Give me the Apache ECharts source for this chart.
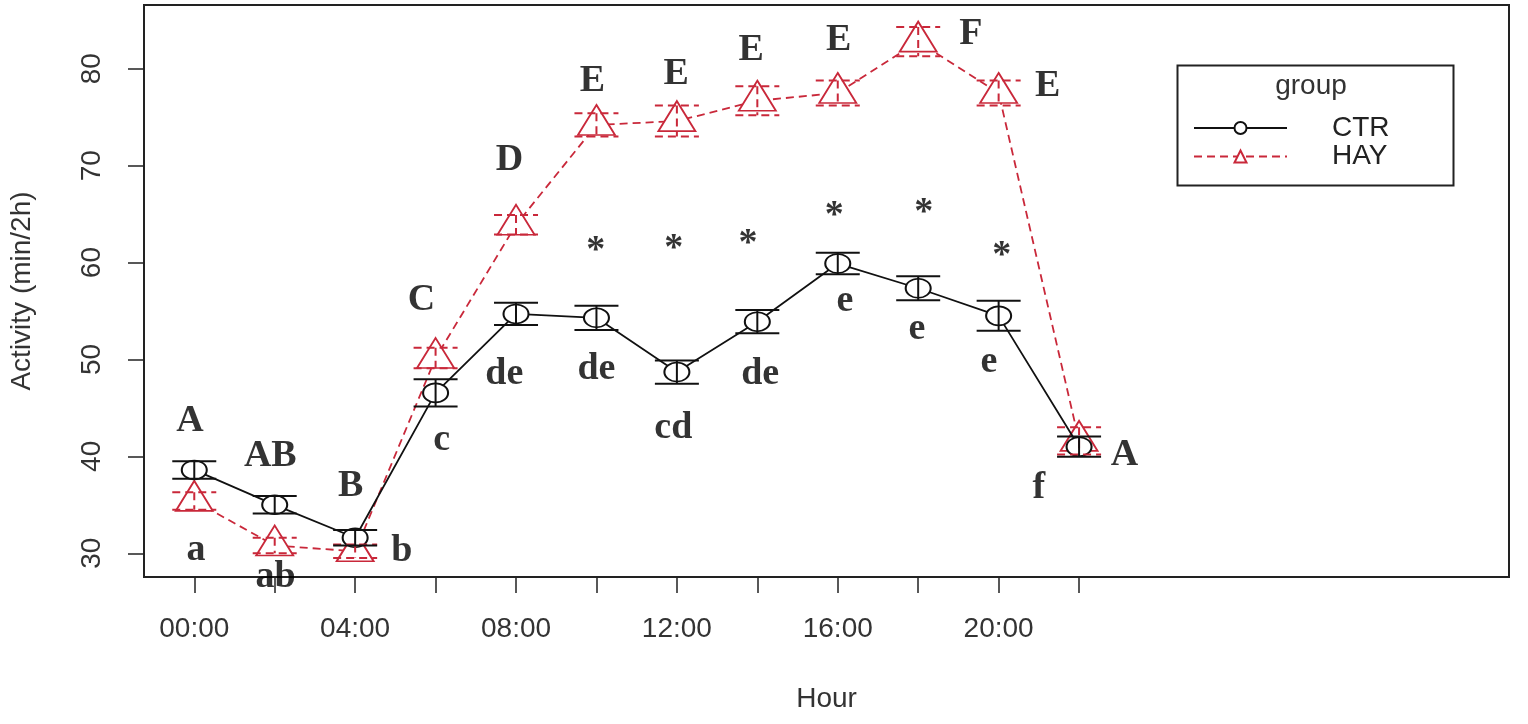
<!DOCTYPE html>
<html><head><meta charset="utf-8">
<script src="https://cdn.jsdelivr.net/npm/echarts@6/dist/echarts.min.js"></script>
<style>html,body{margin:0;padding:0;background:#fff}#c{width:1528px;height:724px}</style>
</head><body><div id="c"></div>
<script>
// ---- data ----
const hours = [0, 2, 4, 6, 8, 10, 12, 14, 16, 18, 20, 22];
const ctrMean = [38.6, 35.0, 31.6, 46.55, 54.7, 54.3, 48.7, 53.9, 59.9, 57.35, 54.5, 41.0];
const ctrSE   = [0.9, 0.9, 0.8, 1.4, 1.15, 1.25, 1.2, 1.2, 1.1, 1.25, 1.55, 1.05];
const hayMean = [35.4, 30.8, 30.2, 50.15, 63.9, 74.2, 74.6, 76.7, 77.5, 82.8, 77.5, 41.6];
const haySE   = [0.9, 0.8, 0.7, 1.05, 1.0, 1.2, 1.6, 1.5, 1.3, 1.5, 1.3, 1.4];
const yTickValues = [30, 40, 50, 60, 70, 80];
const xTickValues = [0, 2, 4, 6, 8, 10, 12, 14, 16, 18, 20, 22];
const xLabelValues = [0, 4, 8, 12, 16, 20];
// significance letters, anchored in data units [hour, value, text]
const hayLetters = [[-0.11, 43.6, 'A'], [1.89, 40.05, 'AB'], [3.89, 36.9, 'B'], [5.65, 56.15, 'C'],
  [7.84, 70.6, 'D'], [9.9, 78.75, 'E'], [11.98, 79.4, 'E'], [13.85, 81.9, 'E'], [16.02, 82.9, 'E'],
  [19.31, 83.6, 'F'], [21.22, 78.2, 'E'], [23.13, 40.15, 'A']];
const ctrLetters = [[0.04, 30.3, 'a'], [2.02, 27.5, 'ab'], [5.16, 30.2, 'b'], [6.15, 41.65, 'c'],
  [7.71, 48.45, 'de'], [10.0, 48.95, 'de'], [11.91, 42.95, 'cd'], [14.07, 48.45, 'de'],
  [16.18, 56.05, 'e'], [17.97, 53.1, 'e'], [19.76, 49.7, 'e'], [21.0, 36.7, 'f']];
const stars = [[9.98, 61.2, '*'], [11.92, 61.4, '*'], [13.77, 61.85, '*'], [15.91, 64.8, '*'],
  [18.14, 65.1, '*'], [20.08, 60.7, '*']];

// ---- styles ----
const RED = '#c9283a';
const BLACK = '#111';
const axisText = '#333';

function errRender(color, dashed) {
  return function (params, api) {
    const h = api.value(0), m = api.value(1), se = api.value(2);
    const top = api.coord([h, m + se]);
    const bot = api.coord([h, m - se]);
    const hw = 22;
    const style = { stroke: color, lineWidth: 2, fill: null, lineDash: dashed ? [8, 5] : null };
    return {
      type: 'group',
      children: [
        { type: 'line', shape: { x1: top[0], y1: top[1], x2: bot[0], y2: bot[1] }, style: style },
        { type: 'line', shape: { x1: top[0] - hw, y1: top[1], x2: top[0] + hw, y2: top[1] }, style: style },
        { type: 'line', shape: { x1: bot[0] - hw, y1: bot[1], x2: bot[0] + hw, y2: bot[1] }, style: style }
      ]
    };
  };
}

function textSeries(arr) {
  return {
    type: 'scatter', silent: true, clip: false, z: 10,
    symbolSize: 1, itemStyle: { color: 'rgba(0,0,0,0)' },
    data: arr.map(d => ({ value: [d[0], d[1]], name: d[2] })),
    label: {
      show: true, position: 'inside', formatter: p => p.name,
      fontFamily: 'Liberation Serif', fontWeight: 'bold', fontSize: 38, color: '#000'
    }
  };
}

const chart = echarts.init(document.getElementById('c'), null, { renderer: 'canvas' });
chart.setOption({
  animation: false,
  backgroundColor: '#fff',
  grid: { left: 142, right: 19, top: 5, bottom: 147, show: true, borderColor: '#222', borderWidth: 2, backgroundColor: 'transparent' },
  xAxis: {
    type: 'value', min: -1.25, max: 32.69,
    name: 'Hour', nameLocation: 'middle', nameGap: 108,
    nameTextStyle: { fontFamily: 'Liberation Sans', fontSize: 28, color: axisText },
    axisLine: { show: false, onZero: false },
    splitLine: { show: false },
    axisTick: { show: true, length: 16, customValues: xTickValues, lineStyle: { color: '#222', width: 1.5 } },
    axisLabel: {
      show: true, margin: 38, customValues: xLabelValues,
      fontFamily: 'Liberation Sans', fontSize: 28, color: axisText,
      formatter: v => (v < 10 ? '0' : '') + v + ':00'
    }
  },
  yAxis: {
    type: 'value', min: 27.55, max: 86.58,
    name: 'Activity (min/2h)', nameLocation: 'middle', nameGap: 108,
    nameTextStyle: { fontFamily: 'Liberation Sans', fontSize: 28, color: axisText },
    axisLine: { show: false, onZero: false },
    splitLine: { show: false },
    axisTick: { show: true, length: 16, customValues: yTickValues, lineStyle: { color: '#222', width: 1.5 } },
    axisLabel: {
      show: true, margin: 38, rotate: 90, customValues: yTickValues,
      fontFamily: 'Liberation Sans', fontSize: 28, color: axisText
    }
  },
  legend: {
    data: ['CTR', 'HAY'], orient: 'vertical', left: 1188, top: 109,
    itemWidth: 93, itemHeight: 15, itemGap: 0.5, selectedMode: false,
    textStyle: { fontFamily: 'Liberation Sans', fontSize: 28, color: '#222', padding: [0, 0, 0, 40], lineHeight: 28 }
  },
  graphic: [
    { type: 'rect', left: 1175, top: 63, shape: { width: 276, height: 120 }, style: { fill: null, stroke: '#222', lineWidth: 2 }, z: 20 },
    { type: 'text', x: 1311, y: 86, style: { text: 'group', fontFamily: 'Liberation Sans', fontSize: 28, fill: '#333', align: 'center', verticalAlign: 'middle' }, z: 20 }
  ],
  series: [
    {
      name: 'HAY', type: 'line', z: 2,
      data: hours.map((h, i) => [h, hayMean[i]]),
      lineStyle: { color: RED, width: 1.8, type: [8, 5] },
      symbol: 'triangle', symbolSize: [37, 30], symbolOffset: [0, '-16.7%'],
      itemStyle: { color: '#fff', borderColor: RED, borderWidth: 1.8 },
      showSymbol: true
    },
    {
      name: 'CTR', type: 'line', z: 3,
      data: hours.map((h, i) => [h, ctrMean[i]]),
      lineStyle: { color: BLACK, width: 1.8 },
      symbol: 'circle', symbolSize: [25, 19],
      itemStyle: { color: '#fff', borderColor: BLACK, borderWidth: 1.8 },
      showSymbol: true
    },
    {
      type: 'custom', z: 4, silent: true,
      data: hours.map((h, i) => [h, hayMean[i], haySE[i]]),
      renderItem: errRender(RED, true)
    },
    {
      type: 'custom', z: 5, silent: true,
      data: hours.map((h, i) => [h, ctrMean[i], ctrSE[i]]),
      renderItem: errRender(BLACK, false)
    },
    textSeries(hayLetters),
    textSeries(ctrLetters),
    textSeries(stars)
  ]
});
</script>
</body></html>
